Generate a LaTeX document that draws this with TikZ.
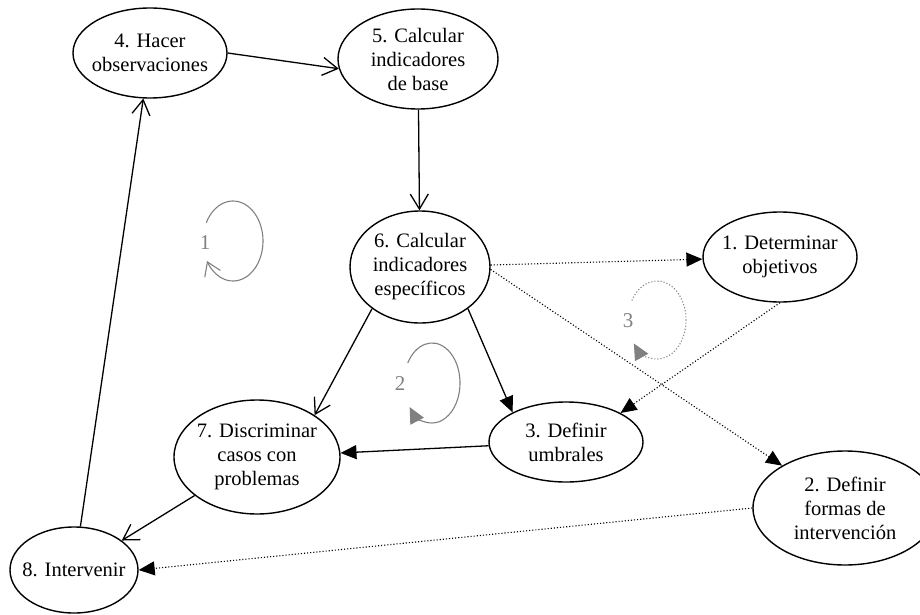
\documentclass[tikz,border=0pt]{standalone}
\usepackage{fontspec}
\setmainfont{Liberation Serif}
\usetikzlibrary{shapes.geometric,arrows.meta,calc}
\definecolor{cycgray}{RGB}{128,128,128}
\tikzset{
  stage/.style={ellipse,draw,line width=1.4pt,inner xsep=-14pt,inner ysep=-6pt,align=center,
    font=\fontsize{20.5}{24}\selectfont},
  openarr/.style={line width=1.3pt,-{Straight Barb[length=15pt,width=18pt,line width=1.3pt]}},
  fillarr/.style={line width=1.3pt,-{Triangle[length=16pt,width=14pt]}},
  dotarr/.style={line width=1.1pt,dotted,-{Triangle[length=16pt,width=14pt]}},
  cyc/.style={draw=cycgray,line width=1.1pt},
  cycnum/.style={text=cycgray,font=\fontsize{21}{24}\selectfont,inner sep=0pt}
}
\begin{document}
\begin{tikzpicture}[x=1pt,y=1pt]
\useasboundingbox (0,0) rectangle (920,-615);
% stages
\node[stage,minimum width=154,minimum height=90] (n4) at (150,-53) {4. Hacer\\observaciones};
\node[stage,minimum width=160,minimum height=100] (n5) at (418,-59) {5. Calcular\\indicadores\\de base};
\node[stage,minimum width=140,minimum height=112] (n6) at (420,-267) {6. Calcular\\indicadores\\específicos};
\node[stage,minimum width=154,minimum height=90] (n1) at (780,-257) {1. Determinar\\objetivos};
\node[stage,minimum width=154,minimum height=80] (n3) at (566,-442) {3. Definir\\umbrales};
\node[stage,minimum width=166,minimum height=114] (n7) at (257,-457) {7. Discriminar\\casos con\\problemas};
\node[stage,minimum width=184,minimum height=114] (n2) at (845,-508) {2. Definir\\formas de\\intervención};
\node[stage,minimum width=128,minimum height=86] (n8) at (74,-570) {8. Intervenir};
% connectors
\draw[openarr] (n4.east) -- (n5.187);
\draw[openarr] (n5) -- (n6);
\draw[openarr] (n6.221) -- (n7.36);
\draw[fillarr] (n6.319) -- (n3.151);
\draw[fillarr] (n3) -- (n7);
\draw[openarr] (n7) -- (n8);
\draw[openarr] (n8) -- (n4);
\draw[dotarr] (n6) -- (n1);
\draw[dotarr] (n6.-2) -- (n2);
\draw[dotarr] (n1.south) -- (n3.28);
\draw[dotarr] (n2.west) -- (n8.east);
% cycle marks
\coordinate (c1) at (233,-241);
\coordinate (c2) at (432,-383);
\coordinate (c3) at (657,-320);
\draw[cyc,-{Straight Barb[length=13pt,width=17pt,line width=1.1pt]}]
  ($(c1)+(153:30 and 40)$) arc[start angle=153,end angle=-150,x radius=30,y radius=40];
\node[cycnum] (k1) at (205,-243) {1};
\draw[cyc,-{Triangle[length=16pt,width=15pt]}]
  ($(c2)+(150:28 and 40)$) arc[start angle=150,end angle=-143,x radius=28,y radius=40];
\node[cycnum] (k2) at (400,-384) {2};
\draw[cyc,dotted,-{Triangle[length=16pt,width=15pt]}]
  ($(c3)+(150:29 and 39)$) arc[start angle=150,end angle=-143,x radius=29,y radius=39];
\node[cycnum] (k3) at (628,-321) {3};
\end{tikzpicture}
\end{document}
